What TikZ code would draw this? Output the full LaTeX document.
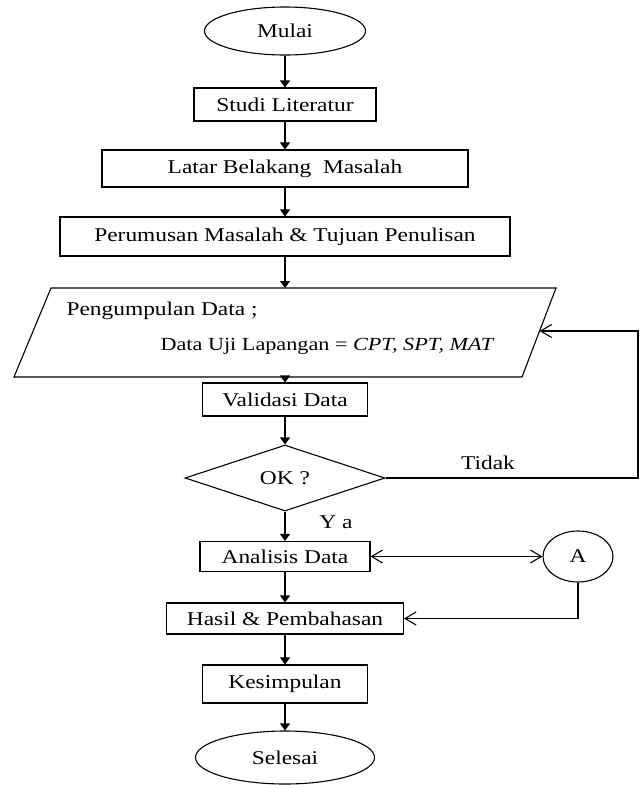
\documentclass[tikz,border=0pt]{standalone}
\usepackage{fontspec}
\setmainfont{Liberation Serif}[FakeStretch=1.2]
\usepackage{tikz}
\usetikzlibrary{arrows.meta, shapes.geometric}
\tikzset{
  txt/.style      = {font=\fontsize{19.5}{23}\selectfont},
  termnode/.style = {draw, ellipse, txt, inner sep=0pt},
  boxnode/.style  = {draw, rectangle, txt, inner sep=0pt},
  decide/.style   = {draw, diamond, aspect=3, txt, inner sep=0pt},
  flow/.style     = {-{Triangle[length=7pt, width=10pt]}},
  back/.style     = {-{Straight Barb[length=11pt, width=13pt]}},
  twoway/.style   = {{Straight Barb[length=11pt, width=13pt]}-{Straight Barb[length=11pt, width=13pt]}},
}

\begin{document}
\begin{tikzpicture}[x=1pt, y=-1pt, line width=1.1pt]

    \useasboundingbox (0,0) rectangle (643,785);

    % --- main column -------------------------------------------------------
    \node[termnode, minimum width=161, minimum height=48] (mulai) at (285,31) {Mulai};
    \node[boxnode, minimum width=182, minimum height=33] (studi) at (285,104.5) {Studi Literatur};
    \node[boxnode, minimum width=366, minimum height=37] (latar) at (285,168.5) {Latar Belakang\ \ Masalah};
    \node[boxnode, minimum width=450, minimum height=39] (rumus) at (285,236.5)
      {Perumusan Masalah \& Tujuan Penulisan};

    % data collection (input), drawn as a parallelogram
    \draw (51,288) -- (556,288) -- (522,377) -- (14,377) -- cycle;
    \coordinate (kumpulN) at (285,288);
    \coordinate (kumpulS) at (285,377);
    \coordinate (kumpulE) at (539.6,331);
    \node[txt, anchor=west, inner sep=0pt] (kumpulA) at (66,311) {Pengumpulan Data ;};
    \node[font=\fontsize{18.5}{22}\selectfont, anchor=west, inner sep=0pt] (kumpulB) at (160,346)
      {Data Uji Lapangan = \textit{CPT, SPT, MAT}};

    \node[boxnode, minimum width=165, minimum height=33] (validasi) at (285,399.5) {Validasi Data};
    \node[decide, minimum width=200, minimum height=66] (ok) at (285,478) {OK ?};
    \node[boxnode, minimum width=170, minimum height=30] (analisis) at (285,556.5) {Analisis Data};
    \node[boxnode, minimum width=237, minimum height=31] (hasil) at (285,618.5) {Hasil \& Pembahasan};
    \node[boxnode, minimum width=165, minimum height=38] (simpul) at (285,684) {Kesimpulan};
    \node[termnode, minimum width=179, minimum height=53] (selesai) at (285,757.5) {Selesai};

    % --- connector A -------------------------------------------------------
    \node[termnode, minimum width=70, minimum height=51] (A) at (578,556.5) {A};

    % --- flow --------------------------------------------------------------
    \draw[flow] (mulai) -- (studi);
    \draw[flow] (studi) -- (latar);
    \draw[flow] (latar) -- (rumus);
    \draw[flow] (rumus) -- (kumpulN);
    \draw[flow] (kumpulS) -- (validasi);
    \draw[flow] (validasi) -- (ok);
    \draw[flow] (ok) -- (analisis);
    \draw[flow] (analisis) -- (hasil);
    \draw[flow] (hasil) -- (simpul);
    \draw[flow] (simpul) -- (selesai);

    % loop back when data is not OK
    \coordinate (balik) at (638,478);
    \draw[back] (ok.east) -- (balik) |- (kumpulE);
    \node[txt, inner sep=0pt] (tidak) at (488,463) {Tidak};
    \node[txt, inner sep=0pt] (ya) at (336,522) {Y a};

    % analysis <-> A -> results
    \draw[twoway] (analisis) -- (A);
    \draw[back] (A) |- (hasil);

  \end{tikzpicture}
\end{document}
